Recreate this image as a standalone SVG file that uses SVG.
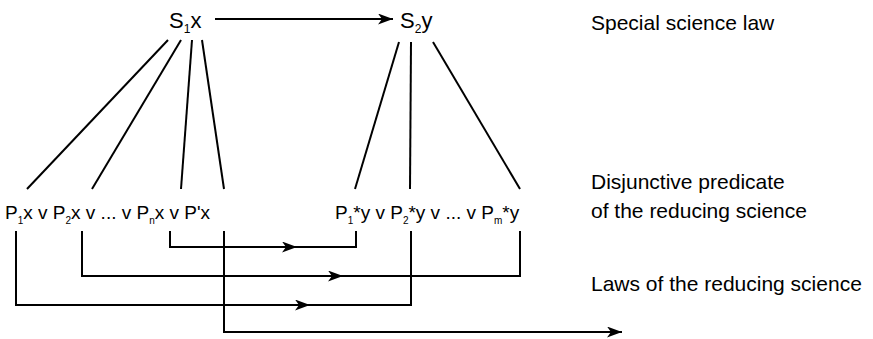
<svg xmlns="http://www.w3.org/2000/svg" width="873" height="339" viewBox="0 0 873 339">
<defs>
<style>
.t{font-family:"Liberation Sans",Arial,sans-serif;fill:#000}
.big{font-size:22px}
.row{font-size:19px}
.lab{font-size:21px}
.sub{font-size:10px}
.sub2{font-size:12px}
.ln{stroke:#000;stroke-width:2;fill:none}
</style>
<marker id="ah" viewBox="0 0 15 11" refX="15" refY="5.5" markerWidth="15" markerHeight="11" markerUnits="userSpaceOnUse" orient="auto">
<path d="M0,0 L15,5.5 L0,11 L4,5.5 z" fill="#000"/>
</marker>
</defs>
<rect width="873" height="339" fill="#fff"/>
<g id="s1x"><text class="t big" x="169" y="28">S<tspan class="sub2" dy="5">1</tspan><tspan dy="-5">x</tspan></text></g>
<g id="s2y"><text class="t big" x="400" y="28">S<tspan class="sub2" dy="5">2</tspan><tspan dy="-5">y</tspan></text></g>
<g id="px"><text class="t row" x="5" y="219">P<tspan class="sub" dy="5">1</tspan><tspan dy="-5">x v P</tspan><tspan class="sub" dy="5">2</tspan><tspan dy="-5">x v ... v P</tspan><tspan class="sub" dy="5">n</tspan><tspan dy="-5">x v P'x</tspan></text></g>
<g id="py"><text class="t row" x="335" y="219">P<tspan class="sub" dy="5">1</tspan><tspan dy="-5">*y v P</tspan><tspan class="sub" dy="5">2</tspan><tspan dy="-5">*y v ... v P</tspan><tspan class="sub" dy="5">m</tspan><tspan dy="-5">*y</tspan></text></g>
<g id="labels">
<text class="t lab" x="591" y="30">Special science law</text>
<text class="t lab" x="591" y="189">Disjunctive predicate</text>
<text class="t lab" x="591" y="218">of the reducing science</text>
<text class="t lab" x="591" y="291">Laws of the reducing science</text>
</g>
<g id="connectors">
<path class="ln" d="M215,19 H393" marker-end="url(#ah)"/>
<path class="ln" d="M168,40 L27,189"/>
<path class="ln" d="M181,40 L92,189"/>
<path class="ln" d="M192,40 L181,189"/>
<path class="ln" d="M202,40 L224,189"/>
<path class="ln" d="M399,42 L355,189"/>
<path class="ln" d="M411,42 L410,189"/>
<path class="ln" d="M433,42 L520,189"/>
<path class="ln" d="M170,231 V247 H297" marker-end="url(#ah)"/>
<path class="ln" d="M296,247 H356 V231"/>
<path class="ln" d="M82,231 V276 H343" marker-end="url(#ah)"/>
<path class="ln" d="M342,276 H520 V231"/>
<path class="ln" d="M16,231 V305 H310" marker-end="url(#ah)"/>
<path class="ln" d="M309,305 H411 V231"/>
<path class="ln" d="M224,231 V332 H622" marker-end="url(#ah)"/>
</g>
</svg>
